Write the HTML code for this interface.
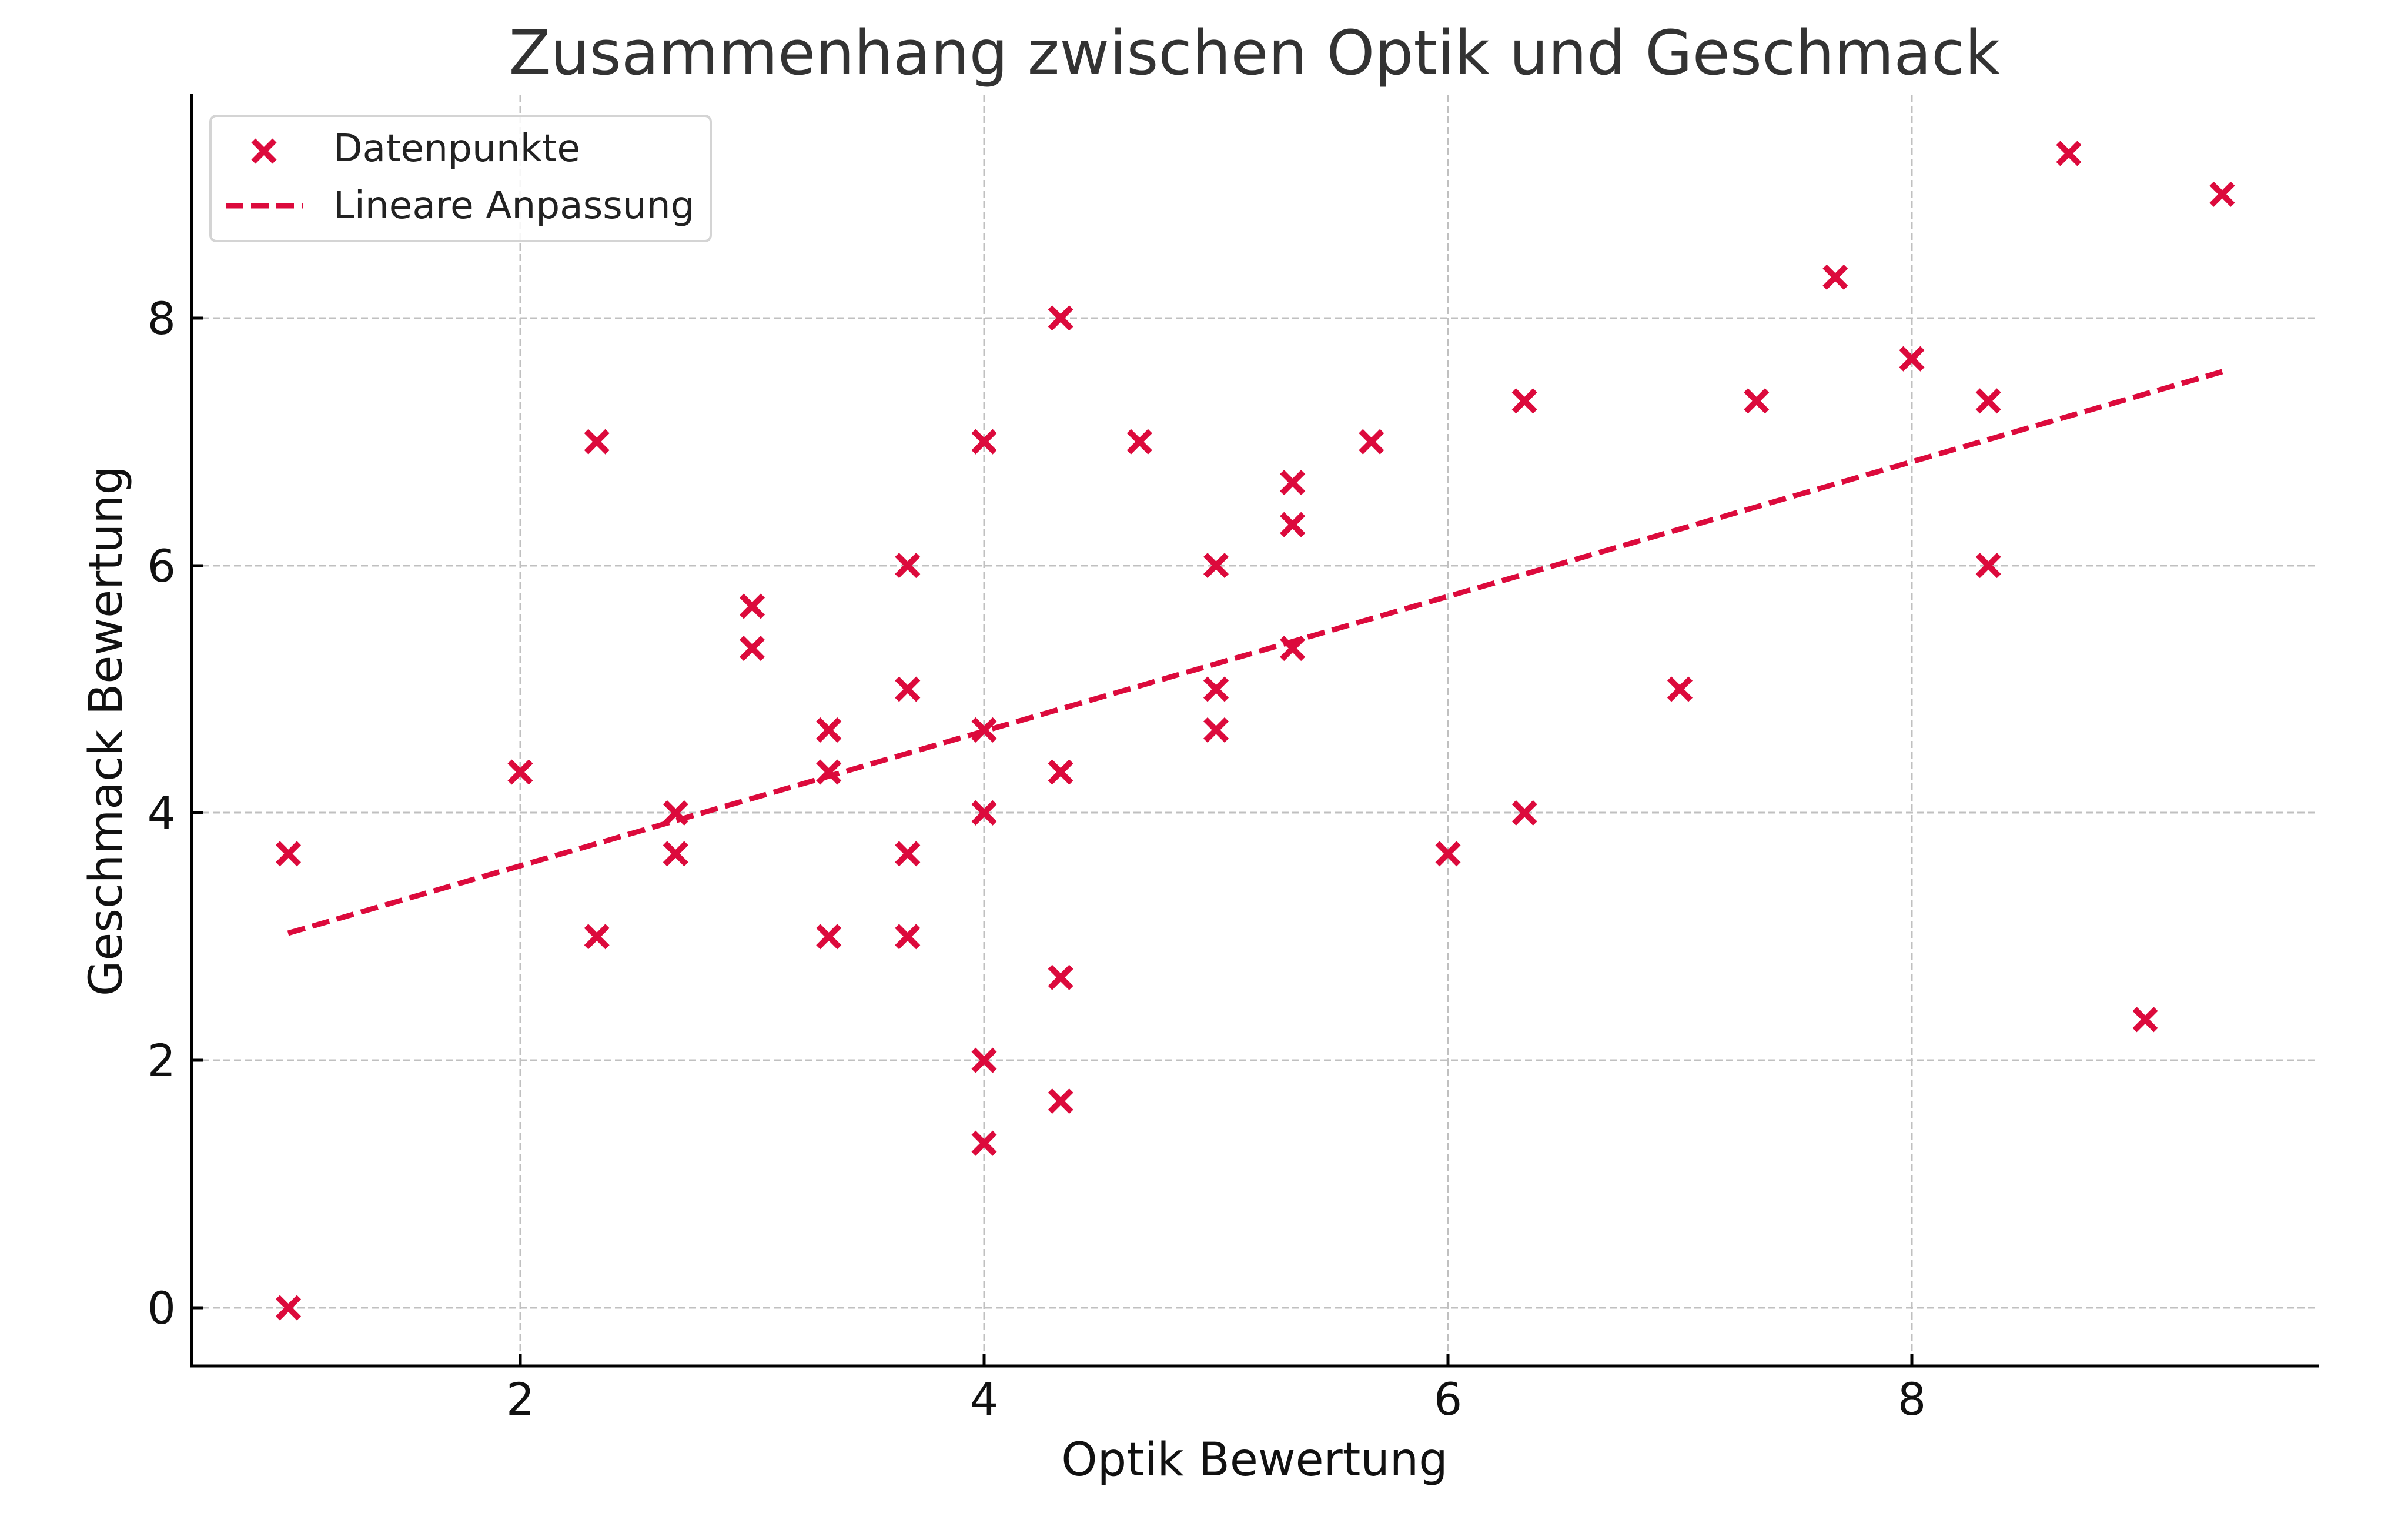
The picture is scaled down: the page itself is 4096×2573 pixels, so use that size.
<!DOCTYPE html>
<html><head><meta charset="utf-8"><style>html,body{margin:0;padding:0;background:#fff}svg{display:block}</style></head>
<body>
<svg width="4096" height="2573" viewBox="0 0 4096 2573" xmlns="http://www.w3.org/2000/svg" xmlns:xlink="http://www.w3.org/1999/xlink" font-family="DejaVu Sans, Liberation Sans, sans-serif">
<defs><path id="m" d="M-18,-18L18,18M-18,18L18,-18" stroke="#dc0a3c" stroke-width="10" fill="none"/></defs>
<rect width="4096" height="2573" fill="#fff"/>
<g stroke="#c0c0c0" stroke-width="3" stroke-dasharray="12,6">
<line x1="885" y1="162" x2="885" y2="2323"/>
<line x1="1674" y1="162" x2="1674" y2="2323"/>
<line x1="2463" y1="162" x2="2463" y2="2323"/>
<line x1="3252" y1="162" x2="3252" y2="2323"/>
<line x1="326" y1="2224" x2="3944" y2="2224"/>
<line x1="326" y1="1803" x2="3944" y2="1803"/>
<line x1="326" y1="1382" x2="3944" y2="1382"/>
<line x1="326" y1="962" x2="3944" y2="962"/>
<line x1="326" y1="541" x2="3944" y2="541"/>
</g>
<g stroke="#000" stroke-width="5">
<line x1="326" y1="160" x2="326" y2="2325"/>
<line x1="324" y1="2323" x2="3944" y2="2323"/>
<line x1="885" y1="2323" x2="885" y2="2303"/>
<line x1="1674" y1="2323" x2="1674" y2="2303"/>
<line x1="2463" y1="2323" x2="2463" y2="2303"/>
<line x1="3252" y1="2323" x2="3252" y2="2303"/>
<line x1="326" y1="2224" x2="346" y2="2224"/>
<line x1="326" y1="1803" x2="346" y2="1803"/>
<line x1="326" y1="1382" x2="346" y2="1382"/>
<line x1="326" y1="962" x2="346" y2="962"/>
<line x1="326" y1="541" x2="346" y2="541"/>
</g>
<g font-size="76" fill="#111" text-anchor="middle">
<text x="885" y="2406">2</text><text x="1674" y="2406">4</text><text x="2463" y="2406">6</text><text x="3252" y="2406">8</text>
</g>
<g font-size="76" fill="#111" text-anchor="end">
<text x="299" y="2251">0</text><text x="299" y="1830">2</text><text x="299" y="1409">4</text><text x="299" y="989">6</text><text x="299" y="568">8</text>
</g>
<text x="2134" y="2509" font-size="78" fill="#111" text-anchor="middle">Optik Bewertung</text>
<text transform="translate(207,1243) rotate(-90)" font-size="78" fill="#111" text-anchor="middle">Geschmack Bewertung</text>
<text x="2134" y="126" font-size="104" fill="#333" text-anchor="middle">Zusammenhang zwischen Optik und Geschmack</text>
<line x1="490" y1="1587" x2="3780" y2="632" stroke="#dc0a3c" stroke-width="9" stroke-dasharray="30,13"/>
<use xlink:href="#m" x="490.5" y="2224"/>
<use xlink:href="#m" x="490.5" y="1451.8"/>
<use xlink:href="#m" x="885" y="1313"/>
<use xlink:href="#m" x="1015.2" y="751.2"/>
<use xlink:href="#m" x="1015.2" y="1592.8"/>
<use xlink:href="#m" x="1149.3" y="1382.4"/>
<use xlink:href="#m" x="1149.3" y="1451.8"/>
<use xlink:href="#m" x="1279.5" y="1031"/>
<use xlink:href="#m" x="1279.5" y="1102.6"/>
<use xlink:href="#m" x="1409.7" y="1241.4"/>
<use xlink:href="#m" x="1409.7" y="1313"/>
<use xlink:href="#m" x="1409.7" y="1592.8"/>
<use xlink:href="#m" x="1543.8" y="961.6"/>
<use xlink:href="#m" x="1543.8" y="1172"/>
<use xlink:href="#m" x="1543.8" y="1451.8"/>
<use xlink:href="#m" x="1543.8" y="1592.8"/>
<use xlink:href="#m" x="1674" y="751.2"/>
<use xlink:href="#m" x="1674" y="1241.4"/>
<use xlink:href="#m" x="1674" y="1382.4"/>
<use xlink:href="#m" x="1674" y="1803.2"/>
<use xlink:href="#m" x="1674" y="1944.2"/>
<use xlink:href="#m" x="1804.2" y="540.8"/>
<use xlink:href="#m" x="1804.2" y="1313"/>
<use xlink:href="#m" x="1804.2" y="1662.2"/>
<use xlink:href="#m" x="1804.2" y="1872.6"/>
<use xlink:href="#m" x="1938.3" y="751.2"/>
<use xlink:href="#m" x="2068.5" y="961.6"/>
<use xlink:href="#m" x="2068.5" y="1172"/>
<use xlink:href="#m" x="2068.5" y="1241.4"/>
<use xlink:href="#m" x="2198.7" y="820.6"/>
<use xlink:href="#m" x="2198.7" y="892.2"/>
<use xlink:href="#m" x="2198.7" y="1102.6"/>
<use xlink:href="#m" x="2332.8" y="751.2"/>
<use xlink:href="#m" x="2463" y="1451.8"/>
<use xlink:href="#m" x="2593.2" y="681.8"/>
<use xlink:href="#m" x="2593.2" y="1382.4"/>
<use xlink:href="#m" x="2857.5" y="1172"/>
<use xlink:href="#m" x="2987.7" y="681.8"/>
<use xlink:href="#m" x="3121.8" y="471.4"/>
<use xlink:href="#m" x="3252" y="610.2"/>
<use xlink:href="#m" x="3382.2" y="681.8"/>
<use xlink:href="#m" x="3382.2" y="961.6"/>
<use xlink:href="#m" x="3519" y="261"/>
<use xlink:href="#m" x="3649" y="1733.8"/>
<use xlink:href="#m" x="3780" y="330.4"/>
<rect x="358" y="197" width="851" height="213" rx="10" fill="#fff" fill-opacity="0.85" stroke="#d4d4d4" stroke-width="4"/>
<use xlink:href="#m" x="449" y="257"/>
<line x1="384" y1="350" x2="515" y2="350" stroke="#dc0a3c" stroke-width="9" stroke-dasharray="30,13"/>
<text x="567" y="274" font-size="64.5" fill="#222">Datenpunkte</text>
<text x="567" y="371" font-size="64.5" fill="#222">Lineare Anpassung</text>
</svg>
</body></html>
